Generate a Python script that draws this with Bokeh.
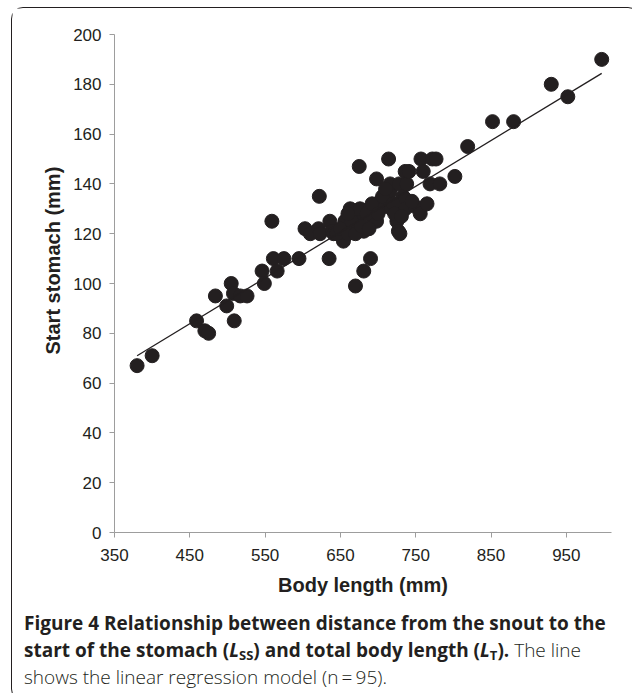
from bokeh.plotting import figure
from bokeh.models import Range1d, FixedTicker, Div, ColumnDataSource, Title
from bokeh.layouts import column
from bokeh.embed import file_html
from bokeh.resources import INLINE

# Body length (mm) and start of stomach (mm), n = 95
body_length = [380, 400, 459, 470, 475, 484, 499, 505, 509, 508, 517, 526,
               546, 549, 559, 561, 566, 575, 595, 603, 610, 621, 622, 623,
               635, 636, 639, 641, 654, 654, 656, 663, 667, 670, 672, 675,
               676, 681, 681, 689, 690, 694, 698, 698, 703, 703, 714, 714,
               716, 716, 718, 725, 727, 729, 728, 733, 736, 736, 736, 738,
               741, 749, 756, 756, 757, 760, 765, 769, 772, 777, 782, 802,
               819, 852, 880, 930, 952, 997,
               645, 650, 660, 665, 670, 678, 685, 692, 700, 706, 710, 720,
               722, 731, 745, 660, 688]
start_stomach = [67, 71, 85, 81, 80, 95, 91, 100, 85, 96, 95, 95,
                 105, 100, 125, 110, 105, 110, 110, 122, 120, 122, 135, 120,
                 110, 125, 121, 120, 121, 117, 125, 130, 121, 99, 125, 147,
                 130, 121, 105, 130, 110, 125, 142, 125, 130, 133, 150, 134,
                 137, 140, 130, 125, 121, 120, 140, 135, 134, 130, 145, 140,
                 145, 131, 130, 128, 150, 145, 132, 140, 150, 150, 140, 143,
                 155, 165, 165, 180, 175, 190,
                 120, 122, 120, 125, 120, 123, 128, 132, 128, 135, 138, 132,
                 128, 127, 133, 128, 122]

# linear regression model
reg_slope = 0.1838
reg_intercept = 1.16

x_ticks = [350, 450, 550, 650, 750, 850, 950]
y_ticks = [0, 20, 40, 60, 80, 100, 120, 140, 160, 180, 200]

ink = "#231f20"
axis_grey = "#9d9d9d"

p = figure(width=617, height=592, output_backend="svg", toolbar_location=None,
           x_range=Range1d(350, 1010), y_range=Range1d(0, 200),
           min_border_left=102, min_border_right=18, min_border_top=26,
           min_border_bottom=68)
p.outline_line_color = None
p.xgrid.visible = False
p.ygrid.visible = False
p.background_fill_color = "white"
p.border_fill_color = "white"

src = ColumnDataSource(dict(x=body_length, y=start_stomach))
p.scatter("x", "y", source=src, size=14, fill_color=ink, line_color=ink)

lx = [min(body_length), max(body_length)]
ly = [reg_intercept + reg_slope * v for v in lx]
p.line(lx, ly, line_color=ink, line_width=1.3)

for ax, ticks in ((p.xaxis[0], x_ticks), (p.yaxis[0], y_ticks)):
    ax.ticker = FixedTicker(ticks=ticks)
    ax.minor_tick_line_color = None
    ax.axis_line_color = axis_grey
    ax.major_tick_line_color = axis_grey
    ax.major_tick_out = 5
    ax.major_tick_in = 0
    ax.major_label_text_font = "Liberation Sans"
    ax.major_label_text_font_size = "17px"
    ax.major_label_text_color = ink
    ax.axis_label_text_font = "Liberation Sans"
    ax.axis_label_text_font_style = "bold"
    ax.axis_label_text_font_size = "20px"
    ax.axis_label_text_color = ink

p.xaxis.axis_label = "Body length (mm)"
p.yaxis.major_label_standoff = 8
p.xaxis.major_label_standoff = 11
p.xaxis.axis_label_standoff = 10

# y-axis title, set slightly above the axis centre as in the reference
p.add_layout(Title(text="Start stomach (mm)", align="left", offset=178,
                   standoff=14, text_font="Liberation Sans",
                   text_font_style="bold", text_font_size="20px",
                   text_color=ink), "left")

sub = "<sub style='font-size:13px;line-height:0;vertical-align:-3px'>"
caption_html = (
    "<div style='white-space:nowrap;'>"
    "<b>Figure 4 Relationship between distance from the snout to the<br>"
    "start of the stomach (<i>L</i>" + sub + "SS</sub>) and total body length "
    "(<i>L</i>" + sub + "T</sub>).</b> "
    "<span style='font-weight:300'>The line<br>shows the linear regression model (n&#8201;=&#8201;95).</span>"
    "</div>"
)
cap = Div(text=caption_html, width=617, height=90,
          styles={"font-family": "Open Sans", "font-size": "19px",
                  "line-height": "27px", "color": ink,
                  "padding-left": "7px", "padding-top": "5px",
                  "box-sizing": "border-box"})

layout = column(p, cap, margin=(7, 0, 0, 11),
                styles={"border": "1.5px solid #231f20",
                        "border-radius": "12px",
                        "background-color": "white"})

open("out.html", "w").write(file_html(layout, INLINE))
